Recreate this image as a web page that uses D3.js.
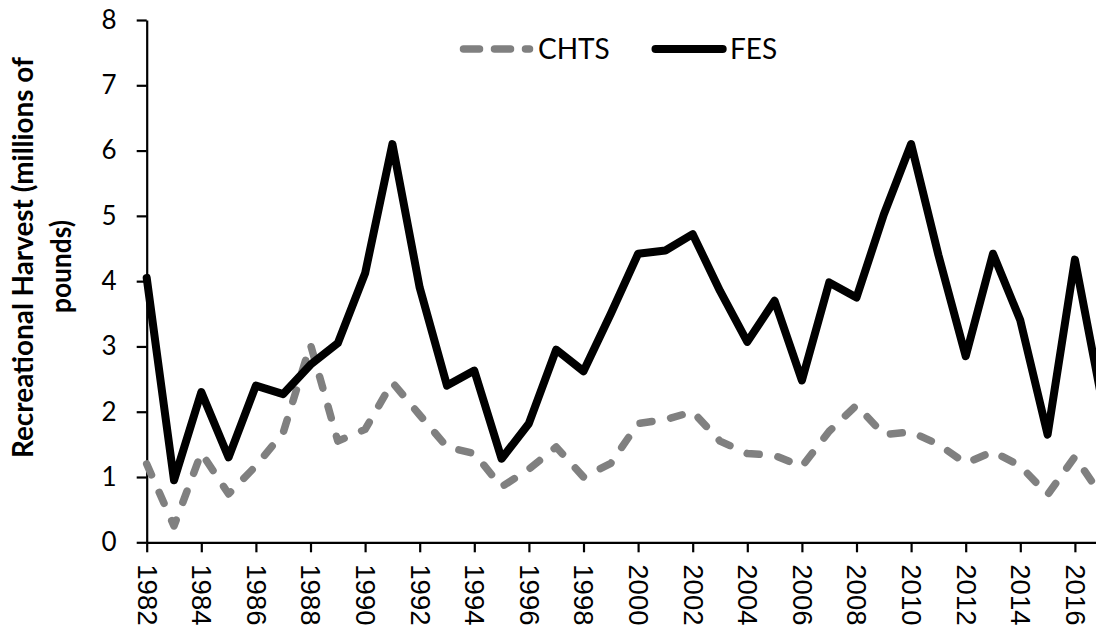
<!DOCTYPE html>
<html><head><meta charset="utf-8">
<script src="https://cdn.jsdelivr.net/npm/d3@7"></script>
<style>body{margin:0;background:#fff;overflow:hidden}</style>
</head><body><svg id="c" width="1096" height="627"></svg>
<script>
const years = [1982,1983,1984,1985,1986,1987,1988,1989,1990,1991,1992,1993,1994,1995,1996,1997,1998,1999,
  2000,2001,2002,2003,2004,2005,2006,2007,2008,2009,2010,2011,2012,2013,2014,2015,2016,2017];
const fes = [4.05,0.95,2.3,1.3,2.4,2.27,2.72,3.05,4.12,6.1,3.9,2.4,2.63,1.28,1.82,2.95,2.62,3.5,
  4.42,4.47,4.72,3.85,3.07,3.7,2.48,3.98,3.75,5.02,6.1,4.4,2.85,4.42,3.4,1.65,4.33,2.15];
const chts = [1.2,0.25,1.37,0.74,1.17,1.68,3.03,1.55,1.73,2.45,1.95,1.46,1.36,0.85,1.12,1.46,1.0,1.21,
  1.82,1.88,2.0,1.55,1.36,1.33,1.16,1.7,2.1,1.65,1.69,1.5,1.21,1.39,1.17,0.73,1.31,0.7];
const xTickYears = [1982,1984,1986,1988,1990,1992,1994,1996,1998,2000,2002,2004,2006,2008,2010,2012,2014,2016];
const yTicks = [0,1,2,3,4,5,6,7,8];
const seriesNames = ["CHTS","FES"];
const yTitleLines = ["Recreational Harvest (millions of","pounds)"];

const svg = d3.select("#c");
const x = d3.scaleLinear().domain([1982, 2017]).range([146.7, 146.7 + 27.3*35]);
const y = d3.scaleLinear().domain([0, 8]).range([542.3, 20]);

// axes
const yAxis = d3.axisLeft(y).tickValues(yTicks).tickSize(10).tickSizeOuter(0).tickPadding(20).tickFormat(d3.format("d"));
const gy = svg.append("g").attr("transform","translate(146.7,0)").call(yAxis);
gy.selectAll("text").style("font-family","Lato, 'Open Sans', sans-serif").style("font-size","26px").attr("fill","#000");

const xAxis = d3.axisBottom(x).tickValues(xTickYears).tickSize(10).tickSizeOuter(0).tickFormat(d3.format("d"));
const gx = svg.append("g").attr("transform","translate(0,542.3)").call(xAxis);
gx.selectAll("text")
  .style("font-family","'Liberation Sans', Arial, sans-serif").style("font-size","27.5px").attr("fill","#000")
  .attr("transform","rotate(90)").attr("x",22).attr("y",0).attr("dy","0.35em").attr("text-anchor","start");
svg.selectAll(".domain, .tick line").attr("stroke","#000").attr("stroke-width",2.2);

// lines
const line = (vals) => d3.line().x((d,i)=>x(years[i])).y(d=>y(d))(vals);
svg.append("path").attr("d", line(chts)).attr("fill","none").attr("stroke","#808080")
  .attr("stroke-width",7.5).attr("stroke-linecap","round").attr("stroke-linejoin","round")
  .attr("stroke-dasharray","12,19");
svg.append("path").attr("d", line(fes)).attr("fill","none").attr("stroke","#000")
  .attr("stroke-width",8).attr("stroke-linecap","round").attr("stroke-linejoin","round");

// legend
const lg = svg.append("g");
lg.append("line").attr("x1",463.5).attr("x2",529.5).attr("y1",49).attr("y2",49)
  .attr("stroke","#808080").attr("stroke-width",7.5).attr("stroke-linecap","round").attr("stroke-dasharray","16,15");
lg.append("text").attr("x",538).attr("y",49).attr("dy","0.35em").text(seriesNames[0])
  .style("font-family","Lato, sans-serif").style("font-size","28px");
lg.append("line").attr("x1",655.5).attr("x2",722.7).attr("y1",49).attr("y2",49)
  .attr("stroke","#000").attr("stroke-width",8).attr("stroke-linecap","round");
lg.append("text").attr("x",730).attr("y",49).attr("dy","0.35em").text(seriesNames[1])
  .style("font-family","Lato, sans-serif").style("font-size","28px");

// y title
const ytStyle = (t) => t.style("font-family","Lato, sans-serif").style("font-size","28px")
  .style("font-weight","bold").attr("text-anchor","middle").attr("lengthAdjust","spacingAndGlyphs");
svg.append("text").attr("transform","translate(33,257.5) rotate(-90)").call(ytStyle)
  .attr("textLength",401).text(yTitleLines[0]);
svg.append("text").attr("transform","translate(71,266.5) rotate(-90)").call(ytStyle)
  .attr("textLength",93).text(yTitleLines[1]);
</script></body></html>
